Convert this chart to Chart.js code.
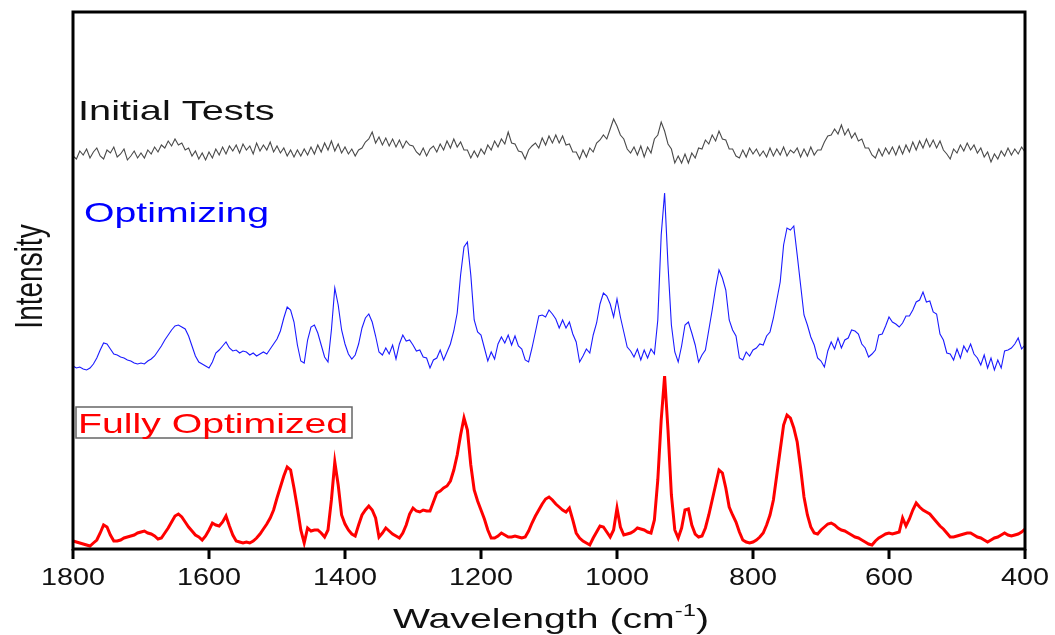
<!DOCTYPE html>
<html>
<head>
<meta charset="utf-8">
<script src="https://cdn.jsdelivr.net/npm/chart.js@4.4.1/dist/chart.umd.min.js"></script>
<style>
	body { margin: 0; background: #fff; }
	canvas { display: block; }
</style>
</head>
<body>
<canvas id="spectra" width="1055" height="635"></canvas>
<script>
'use strict';

// wavenumber grid, 5 cm-1 step from 1800 down to 400
const wavenumbers = Array.from({ length: 281 }, (_, i) => 1800 - 5 * i);

const tickLabels = [1800, 1600, 1400, 1200, 1000, 800, 600, 400];

const initialTests = [
	393, 390, 398, 394, 400, 391, 397, 401, 393, 390, 399, 396, 402, 392, 395, 400, 389, 393, 398, 391,
	396, 391, 399, 395, 402, 397, 404, 401, 408, 403, 410, 404, 406, 399, 401, 393, 398, 390, 396, 389,
	397, 391, 400, 394, 402, 395, 403, 398, 404, 396, 405, 399, 403, 395, 406, 398, 404, 399, 407, 397,
	403, 396, 401, 393, 399, 392, 399, 393, 400, 394, 402, 395, 404, 397, 406, 399, 408, 398, 405, 396,
	402, 395, 400, 393, 399, 401, 407, 410, 417, 406, 412, 404, 411, 403, 410, 402, 409, 401, 408, 404,
	403, 397, 394, 401, 393, 400, 403, 397, 405, 399, 408, 401, 410, 402, 407, 399, 399, 391, 398, 392,
	400, 395, 404, 399, 408, 402, 410, 405, 417, 406, 405, 398, 397, 390, 399, 403, 406, 401, 411, 404,
	413, 406, 414, 406, 413, 404, 405, 397, 397, 390, 399, 392, 401, 397, 406, 409, 414, 410, 420, 430,
	423, 414, 410, 400, 396, 402, 394, 403, 392, 402, 396, 410, 414, 427, 418, 405, 400, 386, 393, 386,
	395, 386, 396, 391, 401, 400, 409, 405, 414, 408, 418, 410, 409, 400, 400, 393, 391, 399, 392, 401,
	395, 400, 393, 398, 392, 401, 393, 400, 394, 402, 393, 399, 396, 401, 392, 400, 393, 402, 394, 399,
	399, 407, 413, 414, 420, 415, 424, 414, 420, 411, 416, 408, 410, 401, 401, 394, 391, 400, 393, 401,
	395, 402, 394, 403, 395, 404, 397, 407, 399, 408, 401, 410, 402, 409, 401, 408, 399, 395, 390, 400,
	396, 404, 398, 406, 399, 404, 396, 401, 392, 397, 387, 395, 390, 398, 393, 401, 394, 400, 395, 402,
	397,
];

const optimizing = [
	183, 181, 182, 180, 179, 181, 185, 191, 199, 206, 205, 200, 195, 194, 192, 191, 189, 188, 186, 185,
	186, 185, 188, 190, 193, 198, 203, 209, 214, 219, 223, 224, 222, 220, 213, 203, 193, 187, 185, 183,
	181, 187, 196, 199, 203, 207, 201, 198, 199, 196, 198, 197, 194, 196, 193, 195, 197, 195, 200, 205,
	210, 218, 231, 242, 239, 227, 204, 188, 186, 209, 222, 224, 216, 204, 192, 187, 219, 261, 244, 219,
	205, 195, 190, 194, 205, 221, 231, 235, 227, 213, 197, 194, 201, 195, 204, 190, 205, 214, 208, 209,
	204, 198, 199, 192, 191, 181, 189, 191, 199, 189, 197, 205, 218, 236, 274, 302, 307, 274, 229, 217,
	214, 201, 188, 197, 190, 205, 212, 206, 214, 204, 213, 203, 200, 189, 187, 201, 217, 233, 234, 232,
	239, 235, 230, 221, 229, 221, 227, 215, 207, 187, 193, 200, 196, 214, 226, 245, 256, 253, 245, 232,
	250, 232, 217, 202, 198, 192, 200, 189, 199, 191, 200, 195, 229, 314, 356, 284, 224, 197, 187, 203,
	224, 227, 216, 204, 187, 194, 199, 219, 239, 261, 279, 271, 259, 229, 219, 213, 191, 189, 197, 193,
	199, 201, 205, 204, 213, 217, 231, 249, 267, 304, 321, 319, 323, 294, 264, 234, 224, 212, 204, 191,
	188, 182, 198, 207, 200, 211, 201, 209, 211, 219, 218, 215, 205, 201, 192, 195, 199, 214, 215, 223,
	232, 227, 225, 222, 226, 233, 233, 239, 247, 249, 257, 247, 248, 237, 235, 215, 209, 196, 195, 189,
	200, 191, 203, 197, 205, 195, 191, 184, 194, 181, 191, 179, 189, 181, 198, 199, 201, 205, 211, 200,
	204,
];

const fullyOptimized = [
	8, 7, 6, 5, 4, 3, 6, 9, 16, 24, 22, 14, 8, 8, 9, 11, 12, 13, 14, 16,
	17, 18, 16, 15, 13, 10, 11, 16, 21, 27, 33, 35, 32, 27, 22, 18, 14, 12, 9, 13,
	19, 26, 24, 23, 27, 33, 23, 14, 8, 7, 6, 7, 6, 8, 11, 15, 20, 25, 31, 39,
	51, 62, 73, 82, 79, 61, 41, 19, 6, 21, 18, 19, 19, 16, 12, 19, 49, 87, 64, 34,
	25, 19, 15, 13, 24, 34, 39, 43, 39, 31, 12, 16, 21, 18, 15, 13, 11, 16, 24, 35,
	41, 38, 37, 39, 38, 38, 47, 56, 58, 61, 63, 68, 79, 94, 114, 131, 119, 84, 59, 48,
	39, 30, 19, 11, 11, 13, 16, 14, 12, 12, 13, 12, 11, 12, 18, 26, 33, 39, 45, 50,
	52, 49, 45, 42, 39, 37, 41, 29, 16, 11, 8, 6, 4, 11, 17, 23, 22, 17, 12, 19,
	41, 22, 14, 15, 16, 18, 21, 20, 19, 17, 16, 29, 69, 129, 173, 119, 54, 19, 11, 21,
	39, 40, 24, 15, 12, 13, 21, 34, 49, 64, 79, 76, 61, 42, 34, 27, 17, 9, 7, 6,
	7, 9, 12, 16, 24, 34, 49, 74, 99, 124, 134, 131, 121, 107, 81, 52, 34, 22, 16, 15,
	19, 22, 25, 26, 24, 21, 19, 18, 16, 14, 12, 11, 9, 7, 5, 4, 8, 11, 13, 15,
	16, 15, 16, 17, 31, 23, 30, 39, 46, 42, 39, 37, 35, 31, 27, 23, 20, 16, 12, 12,
	13, 14, 15, 16, 16, 14, 12, 11, 9, 7, 9, 11, 12, 14, 16, 14, 13, 14, 15, 17,
	20,
];

const FONT = '"Liberation Sans", Arial, sans-serif';

const toPoints = function (values) {
	return wavenumbers.map((w, i) => ({ x: w, y: values[i] }));
};

// the source picture is stretched sideways, so text gets a horizontal scale
const stretchText = function (ctx, text, x, y, size, color, sx, align) {
	ctx.save();
	ctx.translate(x, y);
	ctx.scale(sx, 1);
	ctx.font = size + 'px ' + FONT;
	ctx.fillStyle = color;
	ctx.textAlign = align || 'left';
	ctx.textBaseline = 'alphabetic';
	ctx.fillText(text, 0, 0);
	ctx.restore();
};

const framePlugin = {
	id: 'frame',
	afterDraw(chart) {
		const ctx = chart.ctx;
		const area = chart.chartArea;
		const xScale = chart.scales.x;

		ctx.save();
		ctx.strokeStyle = '#000';
		ctx.lineWidth = 3;
		ctx.strokeRect(area.left, area.top, area.right - area.left, area.bottom - area.top);

		tickLabels.forEach((t) => {
			const px = xScale.getPixelForValue(t);
			ctx.beginPath();
			ctx.moveTo(px, area.bottom);
			ctx.lineTo(px, area.bottom + 10);
			ctx.stroke();
			stretchText(ctx, String(t), px, area.bottom + 36, 24, '#111', 1.2, 'center');
		});

		// axis title with superscript
		const main = 'Wavelength (cm';
		ctx.font = '28px ' + FONT;
		const mainW = ctx.measureText(main).width * 1.4;
		ctx.font = '17px ' + FONT;
		const supW = ctx.measureText('-1').width * 1.4;
		ctx.font = '28px ' + FONT;
		const closeW = ctx.measureText(')').width * 1.4;
		const cx = (area.left + area.right) / 2;
		let tx = cx - (mainW + supW + closeW) / 2 + 2;
		const ty = area.bottom + 79;
		stretchText(ctx, main, tx, ty, 28, '#111', 1.4);
		tx += mainW;
		stretchText(ctx, '-1', tx, ty - 12, 17, '#111', 1.4);
		tx += supW;
		stretchText(ctx, ')', tx, ty, 28, '#111', 1.4);

		// y title, rotated
		ctx.save();
		ctx.translate(42, (area.top + area.bottom) / 2 - 4);
		ctx.scale(1.4, 1);
		ctx.rotate(-Math.PI / 2);
		ctx.font = '28px ' + FONT;
		ctx.fillStyle = '#111';
		ctx.textAlign = 'center';
		ctx.fillText('Intensity', 0, 0);
		ctx.restore();

		// series labels
		stretchText(ctx, 'Initial Tests', area.left + 5, 120, 28, '#111', 1.42);
		stretchText(ctx, 'Optimizing', area.left + 11, 222, 28, '#0000ff', 1.4);
		ctx.strokeStyle = '#666';
		ctx.lineWidth = 1.5;
		ctx.strokeRect(area.left + 3, 407, 276, 31);
		stretchText(ctx, 'Fully Optimized', area.left + 5, 433, 28, '#ff0000', 1.4);
		ctx.restore();
	},
};

const createSpectraChart = function () {
	const ctx = document.getElementById('spectra');

	new Chart(ctx, {
		type: 'line',
		data: {
			datasets: [
				{
					label: 'Initial Tests',
					data: toPoints(initialTests),
					borderColor: '#4a4a4a',
					borderWidth: 1.1,
				},
				{
					label: 'Optimizing',
					data: toPoints(optimizing),
					borderColor: '#1a1aff',
					borderWidth: 1.1,
				},
				{
					label: 'Fully Optimized',
					data: toPoints(fullyOptimized),
					borderColor: '#ff0000',
					borderWidth: 3,
				},
			],
		},
		options: {
			responsive: false,
			animation: false,
			layout: {
				padding: { left: 73, right: 30, top: 12, bottom: 86 },
			},
			elements: {
				point: { radius: 0 },
				line: { tension: 0 },
			},
			scales: {
				x: {
					type: 'linear',
					min: 400,
					max: 1800,
					reverse: true,
					display: false,
				},
				y: {
					min: 0,
					max: 537,
					display: false,
				},
			},
			plugins: {
				legend: { display: false },
				tooltip: { enabled: false },
			},
		},
		plugins: [framePlugin],
	});
};

document.addEventListener('DOMContentLoaded', createSpectraChart);
</script>
</body>
</html>
